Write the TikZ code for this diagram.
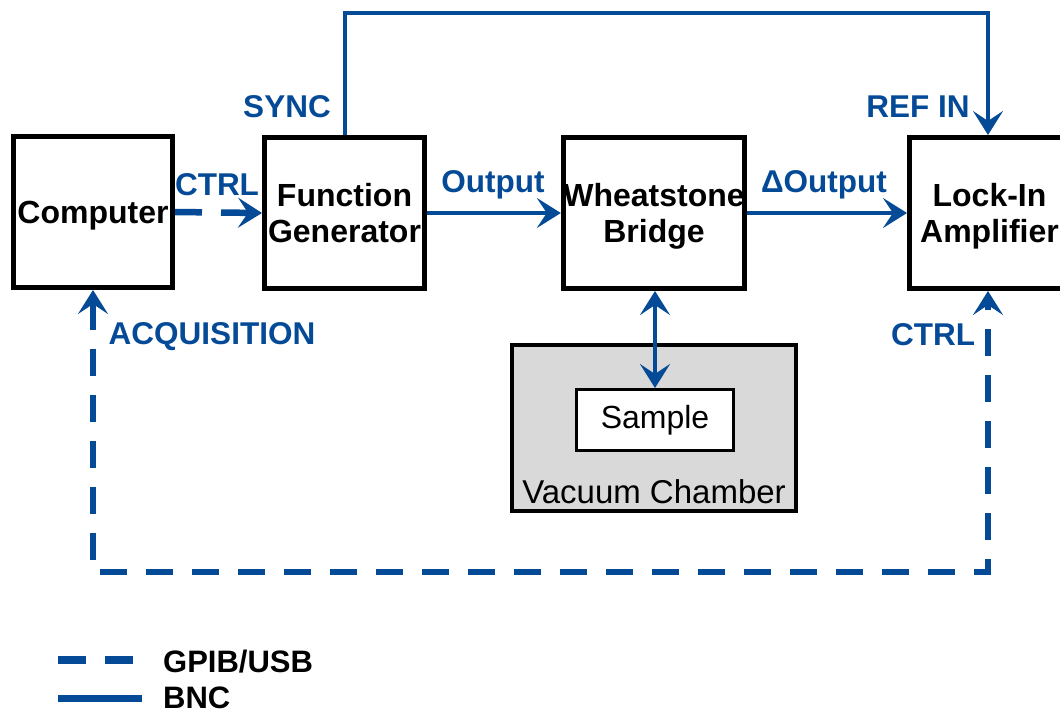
\documentclass[tikz,border=0pt]{standalone}
\usepackage{fontspec}
\setmainfont{Liberation Sans}
\usetikzlibrary{arrows.meta}
\definecolor{lblue}{RGB}{4,74,150}
\definecolor{chgray}{RGB}{217,217,217}
\tikzset{
  box/.style={draw=black, line width=5pt, fill=white, inner sep=0pt, align=center, text depth=0pt,
    font=\fontsize{32}{36}\selectfont\bfseries},
  lbl/.style={text=lblue, inner sep=0pt, font=\fontsize{31.5}{35}\selectfont\bfseries},
  bnc/.style={draw=lblue, line width=4pt},
  gpib/.style={draw=lblue, line width=6.5pt, dash pattern=on 27pt off 19pt},
  tip/.style={-{Stealth[length=24pt,width=30pt,inset=10pt]}},
  dtip/.style={{Stealth[length=24pt,width=30pt,inset=10pt]}-{Stealth[length=24pt,width=30pt,inset=10pt]}},
  legtext/.style={inner sep=0pt, anchor=base west, font=\fontsize{31}{35}\selectfont\bfseries},
}
\begin{document}
\begin{tikzpicture}[x=1pt,y=-1pt]
\useasboundingbox (0,0) rectangle (1060,713);
% boxes
\node[box, minimum width=159pt, minimum height=151pt] (comp) at (93,212) {Computer};
\node[box, minimum width=160pt, minimum height=151pt] (fg) at (344.5,213) {Function\\Generator};
\node[box, minimum width=181pt, minimum height=151pt] (wb) at (654,213) {Wheatstone\\Bridge};
\node[box, minimum width=160pt, minimum height=151pt] (li) at (989.5,213) {Lock-In\\Amplifier};
% vacuum chamber
\node[draw=black, line width=4pt, fill=chgray, minimum width=284pt, minimum height=166pt, inner sep=0pt] (vc) at (654,428) {};
\node[inner sep=0pt, font=\fontsize{33}{36}\selectfont, anchor=center] (vclbl) at (654,492) {Vacuum Chamber};
\node[draw=black, line width=3pt, fill=white, minimum width=157pt, minimum height=61pt, inner sep=0pt,
  font=\fontsize{32}{36}\selectfont] (sample) at (655,420) {Sample};
% connectors
\coordinate (syncA) at (345,13);
\coordinate (syncB) at (988,13);
\draw[bnc, tip] (fg.north -| syncA) -- (syncA) -- (syncB) -- (li.north -| syncB);
\draw[gpib, tip] (comp.east) -- (fg.west);
\draw[bnc, tip] (fg.east) -- (wb.west);
\draw[bnc, tip] (wb.east) -- (li.west);
\draw[bnc, dtip] (wb.south -| sample.north) -- (sample.north);
\coordinate (loopL) at (93,572);
\coordinate (loopR) at (988,572);
\draw[gpib, dtip] (comp.south -| loopL) -- (loopL) -- (loopR) -- (li.south -| loopR);
% labels
\node[lbl] (l1) at (217,185) {CTRL};
\node[lbl] (l2) at (493,185) {Output};
\node[lbl] (l3) at (824,185) {ΔOutput};
\node[lbl] (l4) at (287,107) {SYNC};
\node[lbl] (l5) at (918,107) {REF IN};
\node[lbl] (l6) at (212,337) {ACQUISITION};
\node[lbl] (l7) at (933,335) {CTRL};
% legend
\coordinate (g1) at (58,660);
\coordinate (g2) at (133,660);
\coordinate (b1) at (58,698);
\coordinate (b2) at (142,698);
\draw[draw=lblue, line width=8pt, dash pattern=on 28pt off 19pt] (g1) -- (g2);
\draw[draw=lblue, line width=7pt] (b1) -- (b2);
\node[legtext] (lg1) at (163,672) {GPIB/USB};
\node[legtext] (lg2) at (163,708) {BNC};
\end{tikzpicture}
\end{document}
